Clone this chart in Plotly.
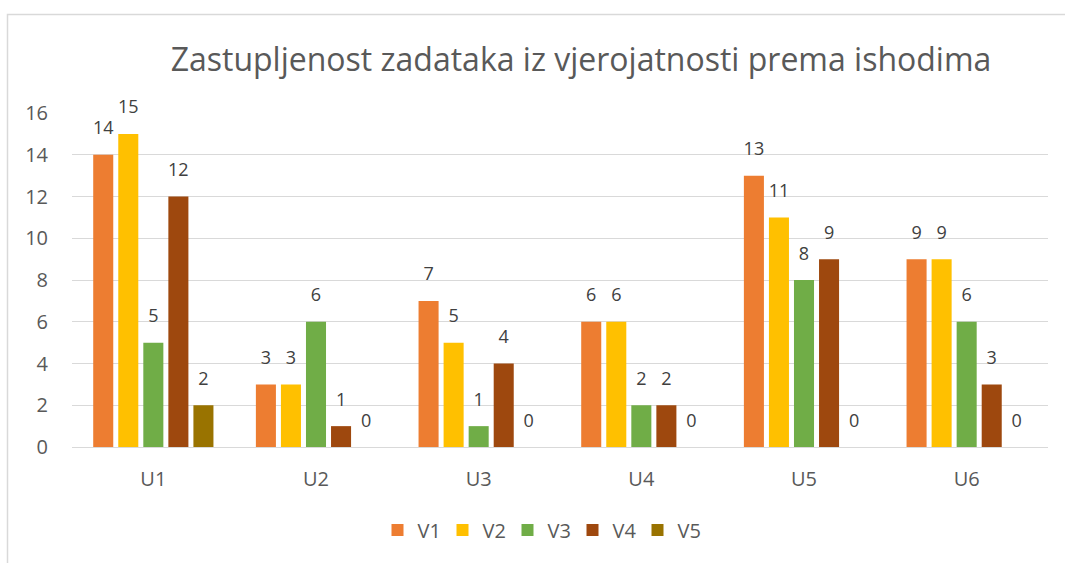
import plotly.graph_objects as go

categories = ["U1", "U2", "U3", "U4", "U5", "U6"]
series_names = ["V1", "V2", "V3", "V4", "V5"]
v1 = [14, 3, 7, 6, 13, 9]
v2 = [15, 3, 5, 6, 11, 9]
v3 = [5, 6, 1, 2, 8, 6]
v4 = [12, 1, 4, 2, 9, 3]
v5 = [2, 0, 0, 0, 0, 0]
series_values = [v1, v2, v3, v4, v5]
colors = ["#ED7D31", "#FFC000", "#70AD47", "#9E480E", "#997300"]
y_ticks = [0, 2, 4, 6, 8, 10, 12, 14, 16]

FONT = "Open Sans"
W, H = 1065, 563
L, R, T, B = 72, 17, 113, 116
PW, PH = W - L - R, H - T - B

fig = go.Figure()
for name, vals, col in zip(series_names, series_values, colors):
    fig.add_trace(go.Bar(
        x=categories, y=vals, name=name,
        marker=dict(color=col, line=dict(width=0)),
        hoverinfo="skip",
    ))
# data labels, grouped like the bars
for name, vals in zip(series_names, series_values):
    fig.add_trace(go.Scatter(
        x=categories, y=vals, mode="markers+text", showlegend=False,
        text=[str(v) for v in vals], textposition="top center",
        marker=dict(size=24, opacity=0, color="white"),
        textfont=dict(family=FONT, size=18, color="#404040"),
        cliponaxis=False, hoverinfo="skip",
    ))

fig.update_layout(
    width=W, height=H,
    margin=dict(l=L, r=R, t=T, b=B),
    paper_bgcolor="white", plot_bgcolor="white",
    barmode="group", bargap=0.23, bargroupgap=0.2,
    scattermode="group", scattergap=0.23,
    title=dict(text="Zastupljenost zadataka iz vjerojatnosti prema ishodima",
               x=581/W, xanchor="center", y=1-60/H, yanchor="middle",
               font=dict(family=FONT, size=32, color="#595959")),
    font=dict(family=FONT, size=20, color="#595959"),
    showlegend=True,
    legend=dict(orientation="h", x=(540-L)/PW, xanchor="center",
                y=(H-B-530)/PH, yanchor="middle",
                font=dict(family=FONT, size=20, color="#595959"),
                entrywidth=20, entrywidthmode="pixels", traceorder="normal"),
    xaxis=dict(showgrid=False, showline=True, linecolor="#d9d9d9", linewidth=1,
               ticks="", ticklabelstandoff=14,
               tickfont=dict(family=FONT, size=20, color="#595959")),
    yaxis=dict(range=[0, 16], tickvals=y_ticks, showgrid=True, gridcolor="#d9d9d9",
               gridwidth=1, zeroline=False, showline=False, ticks="",
               ticklabelstandoff=23,
               tickfont=dict(family=FONT, size=20, color="#595959")),
    shapes=[dict(type="rect", xref="paper", yref="paper",
                 x0=(7.5-L)/PW, x1=1.2, y0=-0.6, y1=(H-B-14.5)/PH,
                 line=dict(color="#d9d9d9", width=1.5), fillcolor="rgba(0,0,0,0)",
                 layer="below")],
)

fig.write_html("out.html", config={"displayModeBar": False},
               post_script="document.body.style.margin='0';document.body.style.overflow='hidden';")
